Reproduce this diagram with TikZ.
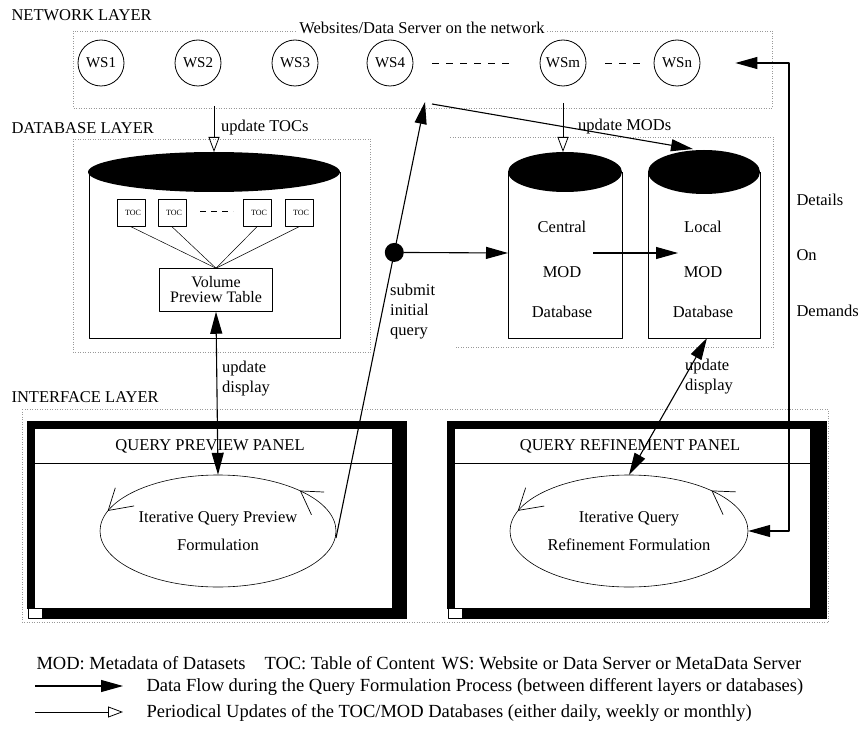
\documentclass[tikz,border=0pt]{standalone}
\usepackage{fontspec}
\setmainfont{Liberation Serif}
\usetikzlibrary{arrows.meta,decorations.markings,calc}
\tikzset{
  layer box/.style={gray!80, dotted, line width=0.5pt},
  site/.style={draw, circle, line width=0.8pt, minimum size=46pt, inner sep=0pt,
    font=\fontsize{15}{18}\selectfont},
  tocbox/.style={draw, line width=0.5pt, minimum width=28pt, minimum height=27pt,
    inner sep=0pt, font=\fontsize{8}{9}\selectfont},
  flow/.style={-{Triangle[length=22pt,width=12pt]}, line width=1.1pt},
  flow both/.style={{Triangle[length=22pt,width=12pt]}-{Triangle[length=22pt,width=12pt]}, line width=1.1pt},
  update/.style={-{Triangle[open,length=15pt,width=11pt]}, line width=0.8pt},
  layer title/.style={anchor=west},
  key text/.style={anchor=west, font=\fontsize{18.5}{20}\selectfont},
  loop barb/.style={line width=0.7pt},
  loop marks/.style={postaction={decorate}, decoration={markings,
      mark=at position 0.1 with {\draw[loop barb] (-20pt,17pt) -- (0pt,0pt) -- (-22pt,-9pt);},
      mark=at position 0.46 with {\draw[loop barb] (-20pt,17pt) -- (0pt,0pt) -- (-22pt,-9pt);}}},
}

\begin{document}
\begin{tikzpicture}[x=1pt, y=-1pt, font=\fontsize{16.5}{20}\selectfont, line join=round]
  \useasboundingbox (0,0) rectangle (860,733);

  % Network layer
  \node[layer title] at (8,15) {NETWORK LAYER};
  \draw[layer box] (73,31) rectangle (772,108);
  \node[fill=white, inner sep=2pt] at (422,28) {Websites/Data Server on the network};
  \node[site] (ws1) at (101,63) {WS1};
  \node[site] (ws2) at (198,63) {WS2};
  \node[site] (ws3) at (295,63) {WS3};
  \node[site] (ws4) at (390,63) {WS4};
  \node[site] (wsm) at (563,63) {WSm};
  \node[site] (wsn) at (677,63) {WSn};
  \draw[dashed, dash pattern=on 7pt off 7pt] (432,63) -- (510,63);
  \draw[dashed, dash pattern=on 7pt off 7pt] (605,63) -- (640,63);

  % Database layer
  \node[layer title] at (8,128) {DATABASE LAYER};
  \draw[layer box] (73,139) rectangle (370,352);
  \draw[layer box] (450,137) -- (773,137) -- (773,347) -- (455,347);

  % Volume preview cylinder
  \draw[line width=0.8pt] (89,172) -- (89,338) -- (340,338) -- (340,172);
  \fill (214,172) ellipse [x radius=126pt, y radius=20pt];
  \coordinate (vol top) at (214,152);
  \node[tocbox] (toc1) at (131,213) {\hspace{4pt}TOC};
  \node[tocbox] (toc2) at (172,213) {\hspace{4pt}TOC};
  \node[tocbox] (toc3) at (257,213) {\hspace{4pt}TOC};
  \node[tocbox] (toc4) at (299,213) {\hspace{4pt}TOC};
  \draw[dashed, dash pattern=on 6pt off 5pt] (200,211) -- (233,211);
  \node[draw, line width=0.5pt, minimum width=113pt, minimum height=43pt, align=center,
    inner sep=0pt, font=\fontsize{16}{15}\selectfont] (vpt) at (216,290) {Volume\\Preview Table};
  \foreach \t in {toc1,toc2,toc3,toc4}
    \draw[line width=0.5pt] (\t.south) -- (vpt.north);

  % Central and local MOD cylinders
  \draw[line width=0.8pt] (508,172) -- (508,338) -- (622,338) -- (622,172);
  \fill (565,172) ellipse [x radius=57pt, y radius=20pt];
  \draw[line width=0.8pt] (648,172) -- (648,338) -- (760,338) -- (760,172);
  \fill (704,172) ellipse [x radius=56pt, y radius=22pt];
  \node (cen) at (562,272) {MOD};
  \node at (562,227) {Central};
  \node at (562,312) {Database};
  \node (loc) at (703,272) {MOD};
  \node at (703,227) {Local};
  \node at (703,312) {Database};
  \coordinate (cen top) at (563,152);
  \coordinate (cen west) at (508,253);
  \coordinate (cen out) at (593,253);
  \coordinate (loc in) at (678,253);
  \coordinate (loc top) at (693,149);
  \coordinate (loc bottom) at (707,338);

  % Update arrows from the network
  \coordinate (toc feed) at (214,106);
  \coordinate (mod feed) at (563,103);
  \draw[update] (toc feed) -- (vol top);
  \node[anchor=west, inner sep=0pt] at (221,128) {update TOCs};
  \draw[update] (mod feed) -- (cen top);
  \node[anchor=west, inner sep=0pt] at (578,127) {update MODs};

  % Interface layer
  \node[layer title] at (8,397) {INTERFACE LAYER};
  \draw[layer box] (22,409) rectangle (828,622);

  % Query preview panel
  \fill (27,421) rectangle (407,619);
  \fill[white] (35,429) rectangle (392,608);
  \fill[white] (27,609) rectangle (42,619);
  \draw[line width=0.5pt] (28,608) -- (28,618) -- (42,618);
  \draw[line width=0.8pt] (35,463) -- (392,463);
  \node at (210,446) {QUERY PREVIEW PANEL};
  \node[minimum width=236pt, minimum height=112pt, align=center] (qp) at (218,531)
    {Iterative Query Preview\\[8pt]Formulation};
  \draw[line width=0.6pt, loop marks] (qp.center) ellipse [x radius=118pt, y radius=56pt];

  % Query refinement panel
  \fill (447,421) rectangle (827,619);
  \fill[white] (455,429) rectangle (810,608);
  \fill[white] (447,609) rectangle (462,619);
  \draw[line width=0.5pt] (448,608) -- (448,618) -- (462,618);
  \draw[line width=0.8pt] (455,463) -- (810,463);
  \node at (630,446) {QUERY REFINEMENT PANEL};
  \node[minimum width=238pt, minimum height=112pt, align=center] (qr) at (629,531)
    {Iterative Query\\[8pt]Refinement Formulation};
  \draw[line width=0.6pt, loop marks] (qr.center) ellipse [x radius=119pt, y radius=56pt];

  % Data flow
  \draw[flow both] (vpt.south) -- (qp.north);
  \node[anchor=west, align=left, inner sep=0pt] at (222,379) {update\\display};
  \coordinate (submit start) at (336,538);
  \coordinate (submit tip) at (425,102);
  \draw[flow] (submit start) -- (submit tip);
  \node[circle, fill, inner sep=0pt, minimum size=19pt] (fork) at ($(submit start)!0.655!(submit tip)$) {};
  \node[anchor=west, align=left, inner sep=0pt] at (390,312) {submit\\initial\\query};
  \coordinate (mod fork) at (432,104);
  \draw[flow] (mod fork) -- (loc top);
  \draw[flow] (fork) -- (cen west);
  \draw[flow] (cen out) -- (loc in);
  \draw[flow both] (loc bottom) -- (qr.north);
  \node[anchor=west, align=left, inner sep=0pt] at (685,377) {update\\display};
  \draw[flow both] ([xshift=35pt]wsn.east) -- (789,63) |- (qr.east);
  \node[anchor=west] at (793,200) {Details};
  \node[anchor=west] at (793,255) {On};
  \node[anchor=west] at (793,311) {Demands};

  % Legend
  \node[key text] at (33,663) {MOD: Metadata of Datasets};
  \node[key text] at (261,663) {TOC: Table of Content};
  \node[key text] at (438,663) {WS: Website or Data Server or MetaData Server};
  \coordinate (key a) at (35,686);
  \coordinate (key b) at (35,712);
  \draw[flow] (key a) -- ++(88,0);
  \node[key text] at (143,687) {Data Flow during the Query Formulation Process (between different layers or databases)};
  \draw[update] (key b) -- ++(88,0);
  \node[key text] at (143,713) {Periodical Updates of the TOC/MOD Databases (either daily, weekly or monthly)};
\end{tikzpicture}
\end{document}
